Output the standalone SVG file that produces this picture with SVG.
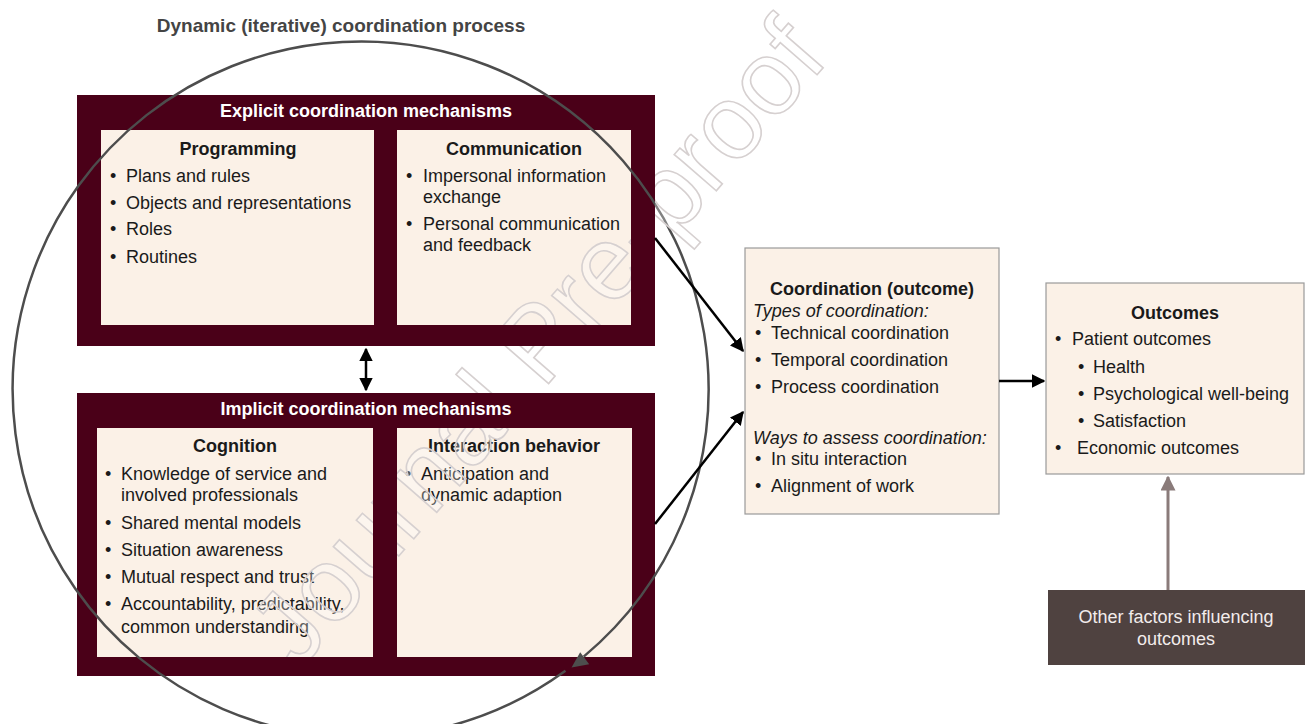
<svg xmlns="http://www.w3.org/2000/svg" width="1311" height="724" viewBox="0 0 1311 724">
<style>
text{font-family:"Liberation Sans",Arial,sans-serif;font-size:18px;fill:#1a1a1a}
.b{font-weight:bold}
.w{fill:#ffffff;font-weight:bold}
.m{text-anchor:middle}
.i{font-style:italic}
.frame{fill:#4a0018}
.cream{fill:#fbf1e7}
.box{fill:#fbf1e7;stroke:#9a9a9a;stroke-width:1.2}
.conn{stroke:#000;stroke-width:2.5;fill:none}
</style>
<defs>
<marker id="ah" viewBox="0 0 10 10" refX="9" refY="5" markerWidth="5.5" markerHeight="5.5" orient="auto-start-reverse" markerUnits="strokeWidth">
<path d="M0 0 L10 5 L0 10 Z" fill="#000"/>
</marker>
<marker id="ahg" viewBox="0 0 10 10" refX="9" refY="5" markerWidth="5" markerHeight="5" orient="auto" markerUnits="strokeWidth">
<path d="M0 0 L10 5 L0 10 Z" fill="#8a7b7a"/>
</marker>
<mask id="wm">
<rect x="0" y="0" width="1311" height="724" fill="#fff"/>
<path fill="#000" fill-rule="evenodd" d="M77 95H655V346H77Z M101 130H374V325H101Z M397 130H631V325H397Z"/>
<path fill="#000" fill-rule="evenodd" d="M77 393H655V676H77Z M97 428H373V657H97Z M397 428H632V657H397Z"/>
</mask>
</defs>
<rect width="1311" height="724" fill="#fff"/>
<text id="title" x="341" y="32" class="m b" style="fill:#444;font-size:19px">Dynamic (iterative) coordination process</text>

<g id="explicit">
<rect class="frame" x="77" y="95" width="578" height="251"/>
<text class="m w" x="366" y="117">Explicit coordination mechanisms</text>
</g>
<g id="programming">
<rect class="cream" x="101" y="130" width="273" height="195"/>
<text class="m b" x="238" y="155">Programming</text>
<text x="110" y="182">•</text><text x="126" y="182">Plans and rules</text>
<text x="110" y="209">•</text><text x="126" y="209">Objects and representations</text>
<text x="110" y="235">•</text><text x="126" y="235">Roles</text>
<text x="110" y="263">•</text><text x="126" y="263">Routines</text>
</g>
<g id="communication">
<rect class="cream" x="397" y="130" width="234" height="195"/>
<text class="m b" x="514" y="155">Communication</text>
<text x="406" y="182">•</text><text x="423" y="182">Impersonal information</text>
<text x="423" y="203">exchange</text>
<text x="406" y="230">•</text><text x="423" y="230">Personal communication</text>
<text x="423" y="251">and feedback</text>
</g>

<g id="implicit">
<rect class="frame" x="77" y="393" width="578" height="283"/>
<text class="m w" x="366" y="415">Implicit coordination mechanisms</text>
</g>
<g id="cognition">
<rect class="cream" x="97" y="428" width="276" height="229"/>
<text class="m b" x="235" y="452">Cognition</text>
<text x="105" y="480">•</text><text x="121" y="480">Knowledge of service and</text>
<text x="121" y="501">involved professionals</text>
<text x="105" y="529">•</text><text x="121" y="529">Shared mental models</text>
<text x="105" y="556">•</text><text x="121" y="556">Situation awareness</text>
<text x="105" y="583">•</text><text x="121" y="583">Mutual respect and trust</text>
<text x="105" y="610">•</text><text x="121" y="610">Accountability, predictability,</text>
<text x="121" y="633">common understanding</text>
</g>
<g id="interaction">
<rect class="cream" x="397" y="428" width="235" height="229"/>
<text class="m b" x="514" y="452">Interaction behavior</text>
<text x="405" y="480">•</text><text x="421" y="480">Anticipation and</text>
<text x="421" y="501">dynamic adaption</text>
</g>

<g id="coordination">
<rect class="box" x="745" y="248" width="254" height="266"/>
<text class="m b" x="872" y="295">Coordination (outcome)</text>
<text class="i" x="753" y="317">Types of coordination:</text>
<text x="755" y="339">•</text><text x="771" y="339">Technical coordination</text>
<text x="755" y="366">•</text><text x="771" y="366">Temporal coordination</text>
<text x="755" y="393">•</text><text x="771" y="393">Process coordination</text>
<text class="i" x="753" y="444">Ways to assess coordination:</text>
<text x="755" y="465">•</text><text x="771" y="465">In situ interaction</text>
<text x="755" y="492">•</text><text x="771" y="492">Alignment of work</text>
</g>

<g id="outcomes">
<rect class="box" x="1046" y="283" width="258" height="191"/>
<text class="m b" x="1175" y="319">Outcomes</text>
<text x="1055" y="345">•</text><text x="1072" y="345">Patient outcomes</text>
<text x="1078" y="373">•</text><text x="1093" y="373">Health</text>
<text x="1078" y="400">•</text><text x="1093" y="400">Psychological well-being</text>
<text x="1078" y="427">•</text><text x="1093" y="427">Satisfaction</text>
<text x="1055" y="454">•</text><text x="1077" y="454">Economic outcomes</text>
</g>

<g id="other-factors">
<rect x="1048" y="590" width="257" height="75" fill="#4f4240"/>
<text class="m" x="1176" y="623" style="fill:#f2eceb">Other factors influencing</text>
<text class="m" x="1176" y="645" style="fill:#f2eceb">outcomes</text>
</g>

<g id="cycle">
<path d="M565.5 670.8 A348 348 0 1 1 583.7 656.6" fill="none" stroke="#4d4d4d" stroke-width="2.5"/>
<polygon points="571.5,667.5 589.2,664.3 580.2,652.3" fill="#4d4d4d"/>
</g>

<g id="connectors">
<line class="conn" x1="366" y1="349" x2="366" y2="390" marker-start="url(#ah)" marker-end="url(#ah)"/>
<line class="conn" x1="655" y1="238" x2="743" y2="351" marker-end="url(#ah)"/>
<line class="conn" x1="655" y1="524" x2="743" y2="412" marker-end="url(#ah)"/>
<line class="conn" x1="999" y1="381" x2="1044" y2="381" marker-end="url(#ah)"/>
<line x1="1168" y1="590" x2="1168" y2="477" stroke="#8a7b7a" stroke-width="3" marker-end="url(#ahg)"/>
</g>

<g id="watermark" mask="url(#wm)">
<text x="0" y="0" transform="translate(298,672) rotate(-49)" style="font-size:105px;fill:#ffffff;fill-opacity:0.3;stroke:#d6d0d0;stroke-width:1.6">Journal Pre-proof</text>
</g>
</svg>
